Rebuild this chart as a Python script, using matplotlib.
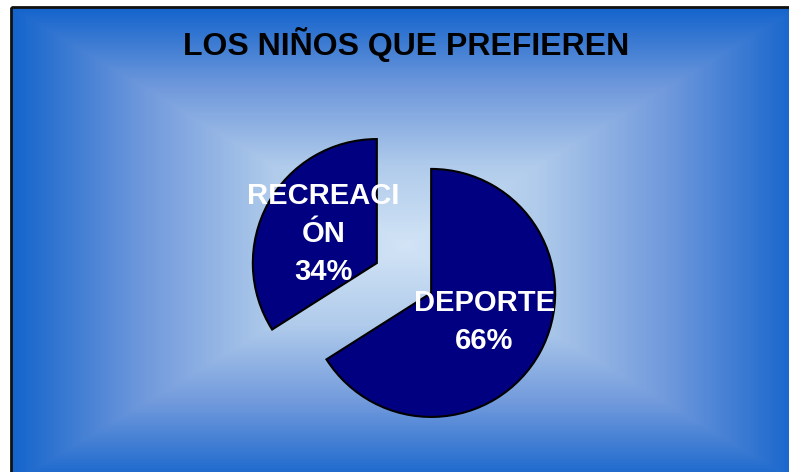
import numpy as np
import matplotlib
matplotlib.use('Agg')
import matplotlib.pyplot as plt
from matplotlib.colors import LinearSegmentedColormap
from matplotlib.patches import Rectangle

plt.rcParams['font.family'] = ['Liberation Sans', 'DejaVu Sans']

title = 'LOS NIÑOS QUE PREFIEREN'
categories = ['DEPORTE', 'RECREACI\nÓN']
values = [66, 34]

W, H = 789, 472
fig = plt.figure(figsize=(W / 100, H / 100), dpi=100)
fig.patch.set_facecolor('white')

# background with rectangular gradient (light center, blue edges)
bg = fig.add_axes([0, 0, 1, 1])
bg.set_xlim(0, W)
bg.set_ylim(H, 0)
bg.axis('off')
x0, y0, x1, y1 = 11, 7, 800, 484
xs = np.linspace(x0, x1, 400)
ys = np.linspace(y0, y1, 300)
X, Y = np.meshgrid(xs, ys)
cx, cy = (x0 + x1) / 2, (y0 + y1) / 2
t = np.maximum(np.abs(X - cx) / ((x1 - x0) / 2), np.abs(Y - cy) / ((y1 - y0) / 2))
cmap = LinearSegmentedColormap.from_list('bg', ['#d2e4f6', '#b0cbeb', '#7099dc', '#1464cc'])
bg.imshow(t, cmap=cmap, extent=(x0, x1, y1, y0), aspect='auto', vmin=0, vmax=1, interpolation='bilinear')
bg.add_patch(Rectangle((x0, y0), x1 - x0, y1 - y0, fill=False, edgecolor='#111111', linewidth=2))
bg.set_xlim(0, W)
bg.set_ylim(H, 0)

bg.text(406, 45, title, ha='center', va='center', fontsize=23, fontweight='bold', color='black')

# pie
r = 124
ax = fig.add_axes([0, 0, 1, 1])
ax.set_xlim(0, W)
ax.set_ylim(0, H)
ax.set_aspect('equal')
ax.axis('off')
wedges, texts, autotexts = ax.pie(values, explode=[0.25 * r, 0.25 * r], startangle=90, counterclock=False,
                                  colors=['#000080', '#000080'], center=(404, 194), radius=r,
                                  autopct='%1.0f%%', pctdistance=0.49,
                                  wedgeprops=dict(edgecolor='black', linewidth=1.5), frame=False)
for cat, v, at in zip(categories, values, autotexts):
    at.set_text('{}\n{}%'.format(cat, v))
    at.set_color('white')
    at.set_fontsize(21)
    at.set_fontweight('bold')
    at.set_linespacing(1.45)
ax.set_xlim(0, W)
ax.set_ylim(0, H)

fig.savefig('out.png', dpi=100)
